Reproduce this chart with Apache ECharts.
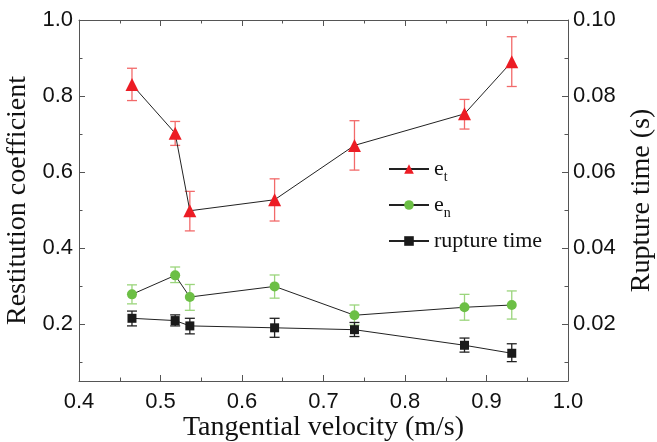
<!DOCTYPE html>
<html>
<head>
<meta charset="utf-8">
<script src="https://cdn.jsdelivr.net/npm/echarts@6/dist/echarts.min.js"></script>
<style>
html,body{margin:0;padding:0;background:#fff;}
#chart{width:657px;height:442px;}
</style>
</head>
<body>
<div id="chart"></div>
<script>
// data
var velocity = [0.465, 0.518, 0.536, 0.640, 0.738, 0.873, 0.931];

var etValue = [0.830, 0.702, 0.498, 0.527, 0.670, 0.753, 0.890];
var etLow   = [0.788, 0.670, 0.445, 0.471, 0.605, 0.713, 0.825];
var etHigh  = [0.873, 0.733, 0.549, 0.582, 0.735, 0.791, 0.956];

var enValue = [0.278, 0.328, 0.271, 0.299, 0.223, 0.244, 0.250];
var enLow   = [0.253, 0.309, 0.236, 0.268, 0.197, 0.210, 0.213];
var enHigh  = [0.303, 0.350, 0.304, 0.329, 0.250, 0.278, 0.287];

var ruptureValue = [0.0215, 0.0209, 0.0195, 0.0190, 0.0185, 0.0144, 0.0123];
var ruptureLow   = [0.0195, 0.0195, 0.0174, 0.0165, 0.0167, 0.0126, 0.0101];
var ruptureHigh  = [0.0234, 0.0224, 0.0215, 0.0215, 0.0204, 0.0163, 0.0148];

var leftTicks = [0.2, 0.4, 0.6, 0.8, 1.0];
var leftMinor = [0.1, 0.3, 0.5, 0.7, 0.9];
var rightTicks = [0.02, 0.04, 0.06, 0.08, 0.10];
var rightMinor = [0.01, 0.03, 0.05, 0.07, 0.09];

var axisColor = '#555';
var serif = '"Liberation Serif","Times New Roman",serif';
var sans = '"Liberation Sans",Arial,sans-serif';

function pairs(ys){
    var out = [];
    for(var i=0;i<velocity.length;i++){
        out.push([velocity[i], ys[i]]);
    }
    return out;
}

function errorBar(low, high, color, yIndex){//误差棒
    var data = [];
    for(var i=0;i<velocity.length;i++){
        data.push([velocity[i], low[i], high[i]]);
    }
    return {
        type:'custom',
        yAxisIndex:yIndex,
        z:1,
        silent:true,
        encode:{x:0, y:[1,2]},
        data:data,
        renderItem:function(params, api){
            var x = api.value(0);
            var lo = api.coord([x, api.value(1)]);
            var hi = api.coord([x, api.value(2)]);
            var w = 5;
            var st = {stroke:color, lineWidth:1.3};
            return {
                type:'group',
                children:[
                    {type:'line', shape:{x1:hi[0], y1:hi[1], x2:lo[0], y2:lo[1]}, style:st},
                    {type:'line', shape:{x1:hi[0]-w, y1:hi[1], x2:hi[0]+w, y2:hi[1]}, style:st},
                    {type:'line', shape:{x1:lo[0]-w, y1:lo[1], x2:lo[0]+w, y2:lo[1]}, style:st}
                ]
            };
        }
    };
}

function yAxisBase(pos, min, max){
    return {
        type:'value',
        position:pos,
        min:min,
        max:max,
        splitLine:{show:false},
        axisLine:{show:true, lineStyle:{color:axisColor, width:1}},
        axisTick:{show:false},
        axisLabel:{show:false}
    };
}

var yLeft = yAxisBase('left', 0.05, 1.0);
yLeft.name = 'Restitution coefficient';
yLeft.nameLocation = 'middle';
yLeft.nameGap = 45;
yLeft.nameTextStyle = {fontFamily:serif, fontSize:28, color:'#111'};
yLeft.axisTick = {show:true, inside:true, length:6, customValues:leftTicks, lineStyle:{color:axisColor}};
yLeft.axisLabel = {show:true, customValues:leftTicks, fontFamily:sans, fontSize:22, color:'#111', margin:6,
    formatter:function(v){ return v.toFixed(1); }};

var yRight = yAxisBase('right', 0.005, 0.1);
yRight.name = 'Rupture time (s)';
yRight.nameLocation = 'middle';
yRight.nameGap = 60;
yRight.nameRotate = 90;
yRight.nameTextStyle = {fontFamily:serif, fontSize:28, color:'#111'};
yRight.axisTick = {show:true, inside:true, length:6, customValues:rightTicks, lineStyle:{color:axisColor}};
yRight.axisLabel = {show:true, customValues:rightTicks, fontFamily:sans, fontSize:22, color:'#111', margin:5,
    formatter:function(v){ return v.toFixed(2); }};

var yLeftMinor = yAxisBase('left', 0.05, 1.0);
yLeftMinor.axisLine = {show:false};
yLeftMinor.axisTick = {show:true, inside:true, length:3.5, customValues:leftMinor, lineStyle:{color:axisColor}};

var yRightMinor = yAxisBase('right', 0.005, 0.1);
yRightMinor.axisLine = {show:false};
yRightMinor.axisTick = {show:true, inside:true, length:3.5, customValues:rightMinor, lineStyle:{color:axisColor}};

var myChart = echarts.init(document.getElementById('chart'));
var option = {
    backgroundColor:'#fff',
    animation:false,
    grid:{left:79, right:89, top:20, bottom:61, containLabel:false, outerBoundsMode:'none'},
    legend:{
        orient:'vertical',
        left:383,
        top:153,
        itemWidth:40,
        itemHeight:12,
        itemGap:10,
        data:['et', 'en', 'rupture time'],
        textStyle:{
            fontFamily:serif,
            fontSize:22,
            color:'#111',
            rich:{
                b:{fontFamily:serif, fontSize:22, color:'#111'},
                s:{fontFamily:serif, fontSize:14, color:'#111', padding:[16,0,0,0]}
            }
        },
        formatter:function(name){
            if(name=='et') return '{b|e}{s|t}';
            if(name=='en') return '{b|e}{s|n}';
            return name;
        }
    },
    xAxis:[
        {
            type:'value',
            position:'bottom',
            min:0.4,
            max:1.0,
            interval:0.1,
            name:'Tangential velocity (m/s)',
            nameLocation:'middle',
            nameGap:33,
            nameMoveOverlap:false,
            nameTextStyle:{fontFamily:serif, fontSize:28, color:'#111'},
            splitLine:{show:false},
            axisLine:{show:true, onZero:false, lineStyle:{color:axisColor, width:1}},
            axisTick:{show:true, inside:true, length:6, lineStyle:{color:axisColor}},
            minorTick:{show:true, splitNumber:2, length:3.5, lineStyle:{color:axisColor}},
            axisLabel:{fontFamily:sans, fontSize:22, color:'#111', margin:10,
                formatter:function(v){ return v.toFixed(1); }}
        },
        {
            type:'value',
            position:'top',
            min:0.4,
            max:1.0,
            interval:0.1,
            splitLine:{show:false},
            axisLine:{show:true, onZero:false, lineStyle:{color:axisColor, width:1}},
            axisTick:{show:true, inside:true, length:6, lineStyle:{color:axisColor}},
            minorTick:{show:true, splitNumber:2, length:3.5, lineStyle:{color:axisColor}},
            axisLabel:{show:false}
        }
    ],
    yAxis:[yLeft, yRight, yLeftMinor, yRightMinor],
    series:[
        errorBar(etLow, etHigh, '#f26a6a', 0),
        errorBar(enLow, enHigh, '#9bd57c', 0),
        errorBar(ruptureLow, ruptureHigh, '#222', 1),
        {
            name:'et',
            type:'line',
            yAxisIndex:0,
            z:3,
            data:pairs(etValue),
            symbol:'triangle',
            symbolSize:13,
            itemStyle:{color:'#ec1c24'},
            lineStyle:{color:'#222', width:1}
        },
        {
            name:'en',
            type:'line',
            yAxisIndex:0,
            z:3,
            data:pairs(enValue),
            symbol:'circle',
            symbolSize:10,
            itemStyle:{color:'#6cbf45'},
            lineStyle:{color:'#222', width:1}
        },
        {
            name:'rupture time',
            type:'line',
            yAxisIndex:1,
            z:3,
            data:pairs(ruptureValue),
            symbol:'rect',
            symbolSize:9,
            itemStyle:{color:'#1a1a1a'},
            lineStyle:{color:'#222', width:1}
        }
    ]
};
myChart.setOption(option);
</script>
</body>
</html>
